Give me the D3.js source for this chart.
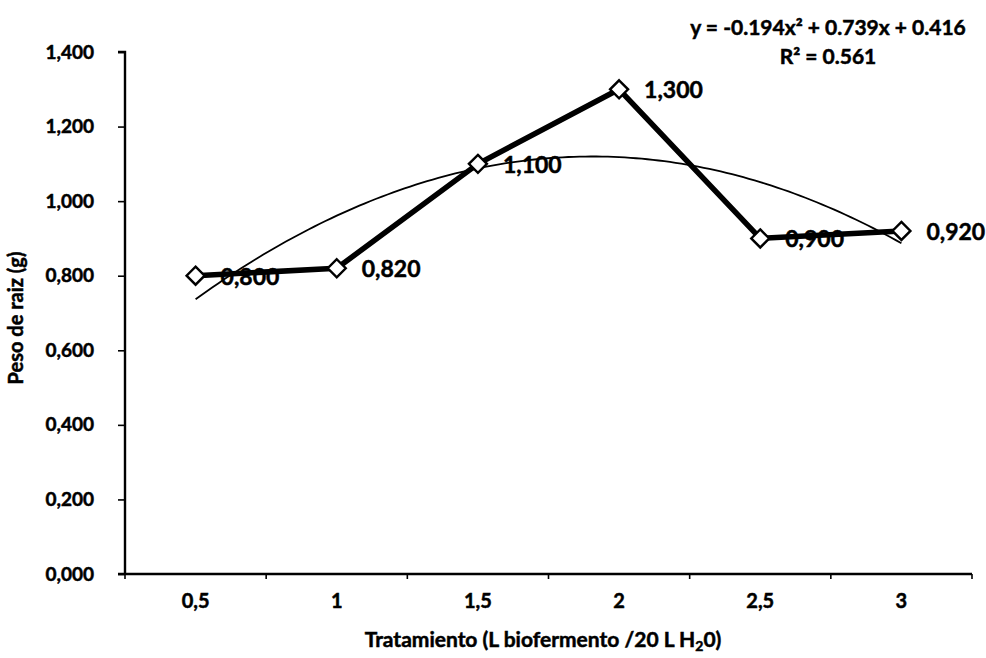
<!DOCTYPE html>
<html>
<head>
<meta charset="utf-8">
<script src="https://cdn.jsdelivr.net/npm/d3@7"></script>
<style>
  body { margin: 0; background: #fff; }
  svg { display: block; font-family: Lato, "Open Sans", sans-serif; font-weight: 700; }
  svg text { fill: #000; stroke: #000; stroke-width: 0.5px; }
</style>
</head>
<body>
<div id="chart"></div>
<script>
// chart data
const categories = ["0,5", "1", "1,5", "2", "2,5", "3"];
const doses = [0.5, 1, 1.5, 2, 2.5, 3];
const rootWeight = [0.800, 0.820, 1.100, 1.300, 0.900, 0.920];
const dataLabels = ["0,800", "0,820", "1,100", "1,300", "0,900", "0,920"];
const yTicks = [0, 0.2, 0.4, 0.6, 0.8, 1.0, 1.2, 1.4];
// polynomial trendline (order 2), coefficients as printed on the chart
const trendCoef = [-0.194, 0.739, 0.416];
const trendText = ["y = -0.194x\u00b2 + 0.739x + 0.416", "R\u00b2 = 0.561"];

const width = 986, height = 658;
const margin = { top: 52, right: 14, bottom: 84, left: 125 };

const svg = d3.select("#chart").append("svg")
    .attr("width", width)
    .attr("height", height);

const x = d3.scaleBand()
    .domain(categories)
    .range([margin.left, width - margin.right]);

// dose value -> pixel, lined up with the band centres
const xVal = d3.scaleLinear()
    .domain([doses[0], doses[doses.length - 1]])
    .range([x(categories[0]) + x.bandwidth() / 2, x(categories[categories.length - 1]) + x.bandwidth() / 2]);

const y = d3.scaleLinear()
    .domain([0, 1.4])
    .range([height - margin.bottom, margin.top]);

const fmt = v => d3.format(".3f")(v).replace(".", ",");

// y axis
const yAxis = svg.append("g")
    .attr("transform", `translate(${margin.left},0)`)
    .call(d3.axisLeft(y).tickValues(yTicks).tickFormat(fmt).tickSize(7).tickPadding(24));
yAxis.select(".domain").attr("stroke", "#000").attr("stroke-width", 2.4)
    .attr("d", `M-7,${y(1.4)}H0V${y(0)}`);
yAxis.selectAll(".tick line").attr("stroke-width", 1.6);
yAxis.selectAll("text").attr("font-size", 19).attr("font-weight", 700)
    .attr("font-family", "Lato, sans-serif");

// x axis: ticks at the band edges
const xAxis = svg.append("g")
    .attr("transform", `translate(0,${y(0)})`);
xAxis.append("line")
    .attr("x1", margin.left - 7).attr("x2", width - margin.right)
    .attr("stroke", "#000").attr("stroke-width", 2.4);
xAxis.selectAll("line.edge")
    .data(d3.range(categories.length + 1))
    .join("line")
    .attr("class", "edge")
    .attr("x1", i => margin.left + i * x.step())
    .attr("x2", i => margin.left + i * x.step())
    .attr("y1", 0).attr("y2", 5)
    .attr("stroke", "#000").attr("stroke-width", 1.6);
xAxis.selectAll("text")
    .data(categories)
    .join("text")
    .attr("x", d => x(d) + x.bandwidth() / 2)
    .attr("y", 34)
    .attr("text-anchor", "middle")
    .attr("font-size", 20)
    .text(d => d);

// axis titles
const xTitle = svg.append("text")
    .attr("x", 543)
    .attr("y", 647)
    .attr("text-anchor", "middle")
    .attr("font-size", 21);
xTitle.append("tspan").text("Tratamiento (L biofermento /20 L H");
xTitle.append("tspan").attr("font-size", 14).attr("dy", 4).text("2");
xTitle.append("tspan").attr("dy", -4).text("0)");

svg.append("text")
    .attr("transform", `translate(23,318) rotate(-90)`)
    .attr("text-anchor", "middle")
    .attr("font-size", 20)
    .text("Peso de raiz (g)");

// data labels go under the line
svg.append("g")
    .selectAll("text")
    .data(rootWeight)
    .join("text")
    .attr("x", (d, i) => xVal(doses[i]) + 25)
    .attr("y", d => y(d) + 9)
    .attr("font-size", 23)
    .text((d, i) => dataLabels[i]);

// series line
const line = d3.line()
    .x((d, i) => xVal(doses[i]))
    .y(d => y(d));
svg.append("path")
    .datum(rootWeight)
    .attr("fill", "none")
    .attr("stroke", "#000")
    .attr("stroke-width", 5.5)
    .attr("stroke-linejoin", "round")
    .attr("d", line);

// trendline
const trendX = d3.range(0.5, 3.0001, 0.02);
const poly = v => trendCoef[0] * v * v + trendCoef[1] * v + trendCoef[2];
svg.append("path")
    .datum(trendX)
    .attr("fill", "none")
    .attr("stroke", "#000")
    .attr("stroke-width", 1.8)
    .attr("d", d3.line().x(v => xVal(v)).y(v => y(poly(v))));

// diamond markers
svg.append("g")
    .selectAll("path")
    .data(rootWeight)
    .join("path")
    .attr("transform", (d, i) => `translate(${xVal(doses[i])},${y(d)})`)
    .attr("d", "M0,-9L9,0L0,9L-9,0Z")
    .attr("fill", "#fff")
    .attr("stroke", "#000")
    .attr("stroke-width", 2.4);

// trendline equation
svg.append("g")
    .selectAll("text")
    .data(trendText)
    .join("text")
    .attr("x", 828)
    .attr("y", (d, i) => 35 + i * 29)
    .attr("text-anchor", "middle")
    .attr("font-size", 21)
    .text(d => d);
</script>
</body>
</html>
